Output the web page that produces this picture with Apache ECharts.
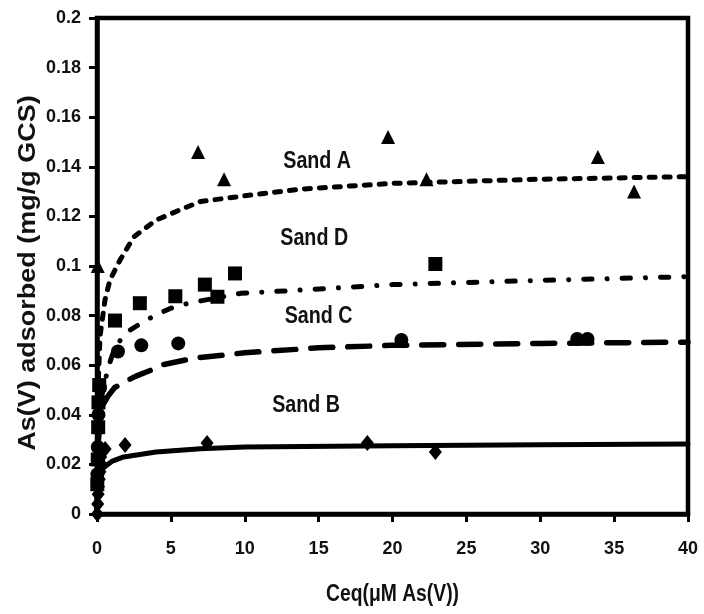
<!DOCTYPE html>
<html>
<head>
<meta charset="utf-8">
<script src="https://cdn.jsdelivr.net/npm/echarts@6/dist/echarts.min.js"></script>
<style>
  html, body { margin: 0; padding: 0; background: #fff; }
  #chart { width: 704px; height: 614px; }
</style>
</head>
<body>
<div id="chart"></div>
<script>
// Axis ticks
const xTickValues = [0, 5, 10, 15, 20, 25, 30, 35, 40];
const yTickLabels = ['0', '0.02', '0.04', '0.06', '0.08', '0.1', '0.12', '0.14', '0.16', '0.18', '0.2'];

// Measured adsorption (Ceq in µM, q in mg/g GCS)
const sandA_C = [0.05, 6.84, 8.6, 19.7, 22.3, 33.9, 36.35];
const sandA_q = [0.100, 0.146, 0.135, 0.152, 0.135, 0.144, 0.130];

const sandD_C = [0.02, 0.05, 0.08, 0.1, 0.15, 1.22, 2.9, 5.3, 7.3, 8.15, 9.34, 22.9];
const sandD_q = [0.012, 0.022, 0.035, 0.045, 0.052, 0.078, 0.085, 0.0878, 0.0925, 0.0876, 0.097, 0.1008];

const sandC_C = [0.03, 0.05, 0.1, 0.2, 1.42, 3.0, 5.5, 20.6, 32.5, 33.2];
const sandC_q = [0.016, 0.027, 0.040, 0.051, 0.0655, 0.068, 0.0688, 0.0702, 0.0706, 0.0706];

const sandB_C = [0.02, 0.05, 0.08, 0.1, 0.15, 0.2, 0.3, 0.25, 0.55, 1.9, 7.45, 18.3, 22.9];
const sandB_q = [0.000, 0.004, 0.008, 0.011, 0.014, 0.017, 0.020, 0.023, 0.0262, 0.0278, 0.0286, 0.0286, 0.025];

// Fitted isotherm curves
const fitA_C = [0, 0.03, 0.1, 0.2, 0.54, 0.88, 1.56, 2.5, 4.0, 5.6, 7.0, 10.4, 13.8, 20, 30, 40];
const fitA_q = [0, 0.030, 0.055, 0.0715, 0.0863, 0.0944, 0.1024, 0.1118, 0.1185, 0.1226, 0.126, 0.1286, 0.131, 0.1333, 0.135, 0.136];

const fitD_C = [0, 0.1, 0.3, 0.75, 1.2, 1.7, 2.2, 3.0, 3.9, 5.0, 6.2, 9.75, 13.8, 20, 30, 40];
const fitD_q = [0, 0.030, 0.047, 0.059, 0.067, 0.071, 0.074, 0.077, 0.080, 0.083, 0.085, 0.089, 0.0903, 0.0925, 0.0942, 0.0957];

const fitC_C = [0, 0.1, 0.2, 0.4, 0.8, 1.2, 1.8, 2.6, 3.65, 4.3, 5.9, 6.8, 10, 15, 20, 30, 40];
const fitC_q = [0, 0.030, 0.039, 0.044, 0.048, 0.051, 0.053, 0.0555, 0.058, 0.060, 0.062, 0.063, 0.065, 0.067, 0.068, 0.0688, 0.0693];

const fitB_C = [0, 0.05, 0.1, 0.25, 0.5, 1.0, 1.8, 4.0, 7.0, 10, 20, 30, 40];
const fitB_q = [0, 0.008, 0.012, 0.017, 0.019, 0.0212, 0.023, 0.025, 0.0263, 0.027, 0.0275, 0.0279, 0.0282];

// Curve labels
const labelText = ['Sand A', 'Sand D', 'Sand C', 'Sand B'];
const labelC = [14.9, 14.7, 15.0, 14.15];
const labelQ = [0.142, 0.111, 0.0796, 0.044];

const xTitle = 'Ceq(μM As(V))';
const yTitle = 'As(V) adsorbed (mg/g GCS)';

const pairs = (xs, ys) => xs.map((x, i) => [x, ys[i]]);
const font = "'Liberation Sans', Arial, sans-serif";

function scatter(name, xs, ys, symbol, size) {
  return {
    name, type: 'scatter', data: pairs(xs, ys), symbol, symbolSize: size,
    itemStyle: { color: '#000', opacity: 1 }, z: 5, silent: true
  };
}
function curve(name, xs, ys, dash, width) {
  return {
    name, type: 'line', data: pairs(xs, ys), showSymbol: false, smooth: false,
    lineStyle: { color: '#000', width, type: dash, cap: 'round', join: 'round' },
    z: 3, silent: true
  };
}

const chart = echarts.init(document.getElementById('chart'), null, { renderer: 'canvas' });
chart.setOption({
  animation: false,
  backgroundColor: '#fff',
  grid: {
    left: 97, right: 16, top: 18, bottom: 100,
    show: true, borderColor: '#000', borderWidth: 4.5, backgroundColor: 'transparent'
  },
  xAxis: {
    type: 'value', min: 0, max: 40, interval: 5,
    axisLine: { show: true, onZero: false, lineStyle: { color: '#000', width: 4.5 } },
    axisTick: { show: true, length: 8, lineStyle: { color: '#000', width: 3 } },
    axisLabel: {
      margin: 26, fontFamily: font, fontWeight: 'bold', fontSize: 18, color: '#111',
      formatter: v => xTickValues.includes(v) ? String(v) : ''
    },
    splitLine: { show: false }
  },
  yAxis: {
    type: 'value', min: 0, max: 0.2, interval: 0.02,
    axisLine: { show: true, onZero: false, lineStyle: { color: '#000', width: 4.5 } },
    axisTick: { show: true, length: 8, lineStyle: { color: '#000', width: 3 } },
    axisLabel: {
      margin: 16, fontFamily: font, fontWeight: 'bold', fontSize: 18, color: '#111',
      formatter: v => yTickLabels[Math.round(v / 0.02)]
    },
    splitLine: { show: false }
  },
  series: [
    curve('Sand A fit', fitA_C, fitA_q, [6, 9], 5),
    curve('Sand D fit', fitD_C, fitD_q, [8.3, 15, 0.1, 15], 5),
    curve('Sand C fit', fitC_C, fitC_q, [22, 15], 5.5),
    curve('Sand B fit', fitB_C, fitB_q, 'solid', 5),
    scatter('Sand A', sandA_C, sandA_q, 'triangle', 14),
    scatter('Sand D', sandD_C, sandD_q, 'rect', 14),
    scatter('Sand C', sandC_C, sandC_q, 'circle', 14),
    scatter('Sand B', sandB_C, sandB_q, 'diamond', [13, 16])
  ]
});

// Condensed titles and curve labels, placed through the grid's coordinate system
const toPx = (c, q) => chart.convertToPixel({ gridIndex: 0 }, [c, q]);
const [gx0, gy0] = toPx(0, 0);
const [gx1, gy1] = toPx(40, 0.2);

function textEl(text, x, y, size, opts) {
  return Object.assign({
    type: 'text', x, y, silent: true, z: 10,
    style: {
      text, fill: '#111', font: `bold ${size}px ${font}`,
      textAlign: 'center', textVerticalAlign: 'middle', verticalAlign: 'middle'
    }
  }, opts || {});
}

const graphics = labelText.map((t, i) => {
  const [px, py] = toPx(labelC[i], labelQ[i]);
  return textEl(t, px, py, 24, { scaleX: 0.82 });
});
graphics.push(textEl(xTitle, (gx0 + gx1) / 2, gy0 + 81, 23, { scaleX: 0.84 }));
graphics.push(textEl(yTitle, gx0 - 69, (gy0 + gy1) / 2 + 7, 27, { rotation: Math.PI / 2, scaleY: 0.9 }));

chart.setOption({ graphic: graphics });
</script>
</body>
</html>
